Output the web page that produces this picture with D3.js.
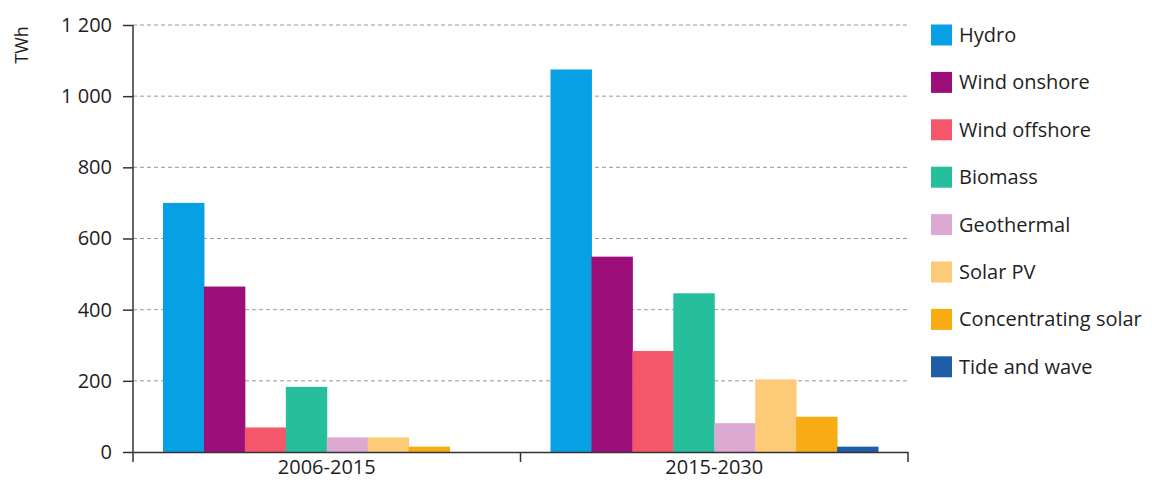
<!DOCTYPE html>
<html><head><meta charset="utf-8">
<script src="https://cdn.jsdelivr.net/npm/d3@7"></script>
<style>body{margin:0;background:#fff}svg{display:block}text{font-family:"Open Sans","Noto Sans",sans-serif;fill:#1e1e1e}</style>
</head><body><svg id="c" width="1152" height="490"></svg>
<script>
const periods = ["2006-2015", "2015-2030"];
const sources = ["Hydro","Wind onshore","Wind offshore","Biomass","Geothermal","Solar PV","Concentrating solar","Tide and wave"];
const colors = ["#07a0e4","#9c0f7a","#f4566a","#25bf9b","#dba9d1","#fdcb78","#f8ab12","#1f5ea6"];
const values2006_2015 = [700, 465, 69, 183, 41, 41, 15, 0];
const values2015_2030 = [1075, 549, 284, 446, 81, 204, 99, 15];
const yTicks = [0,200,400,600,800,1000,1200];
const yLabel = "TWh";

const data = [values2006_2015, values2015_2030];
const svg = d3.select("#c");
const x0 = d3.scaleBand().domain(periods).range([133, 908]).paddingInner(0).paddingOuter(0);
const x1 = d3.scaleBand().domain(sources).range([30, x0.bandwidth()-30]).padding(0);
const y = d3.scaleLinear().domain([0,1200]).range([452, 25]);
const fmt2 = v => { const s = String(v); return s.length > 3 ? s.slice(0, s.length-3) + " " + s.slice(-3) : s; };

// gridlines
svg.append("g").selectAll("line").data(yTicks.filter(d=>d>0)).join("line")
  .attr("x1",133).attr("x2",910).attr("y1",d=>y(d)).attr("y2",d=>y(d))
  .attr("stroke","#999").attr("stroke-width",1).attr("stroke-dasharray","4,3");

// bars
periods.forEach((p,i)=>{
  svg.append("g").attr("transform",`translate(${x0(p)},0)`)
    .selectAll("rect").data(sources.map((s,j)=>({s, v:data[i][j], c:colors[j]}))).join("rect")
    .attr("x",d=>x1(d.s)).attr("width",x1.bandwidth()+0.5)
    .attr("y",d=>y(d.v)).attr("height",d=>y(0)-y(d.v)).attr("fill",d=>d.c);
});

// y axis
const ya = svg.append("g").attr("transform","translate(133,0)")
  .call(d3.axisLeft(y).tickValues(yTicks).tickFormat(fmt2).tickSize(10).tickPadding(11));
ya.attr("font-size",null).attr("font-family",null);
ya.select(".domain").attr("stroke","#333").attr("stroke-width",1.5).attr("d","M0,25V452");
ya.selectAll(".tick line").attr("stroke","#333").attr("stroke-width",1.5);
ya.selectAll(".tick text").style("font-size","20px").attr("fill","#1e1e1e");

// x axis
const xa = svg.append("g").attr("transform","translate(0,452)")
  .call(d3.axisBottom(x0).tickSize(0).tickPadding(8));
xa.attr("font-size",null).attr("font-family",null);
xa.select(".domain").attr("stroke","#333").attr("stroke-width",1.5);
xa.selectAll(".tick text").style("font-size","20px").attr("fill","#1e1e1e");
svg.append("g").selectAll("line").data([133, x0(periods[1]), 908]).join("line")
  .attr("x1",d=>d).attr("x2",d=>d).attr("y1",452).attr("y2",462).attr("stroke","#333").attr("stroke-width",1.5);

// y label
svg.append("text").attr("transform","translate(22,45) rotate(-90)").attr("text-anchor","middle")
  .attr("dy","0.35em").style("font-size","18px").text(yLabel);

// legend
const lg = svg.append("g").selectAll("g").data(sources).join("g")
  .attr("transform",(d,i)=>`translate(931,${35 + i*47.4})`);
lg.append("rect").attr("x",0).attr("y",-10.5).attr("width",21).attr("height",21).attr("fill",(d,i)=>colors[i]);
lg.append("text").attr("x",28).attr("y",0).attr("dy","0.35em").style("font-size","20px").text(d=>d);
</script></body></html>
